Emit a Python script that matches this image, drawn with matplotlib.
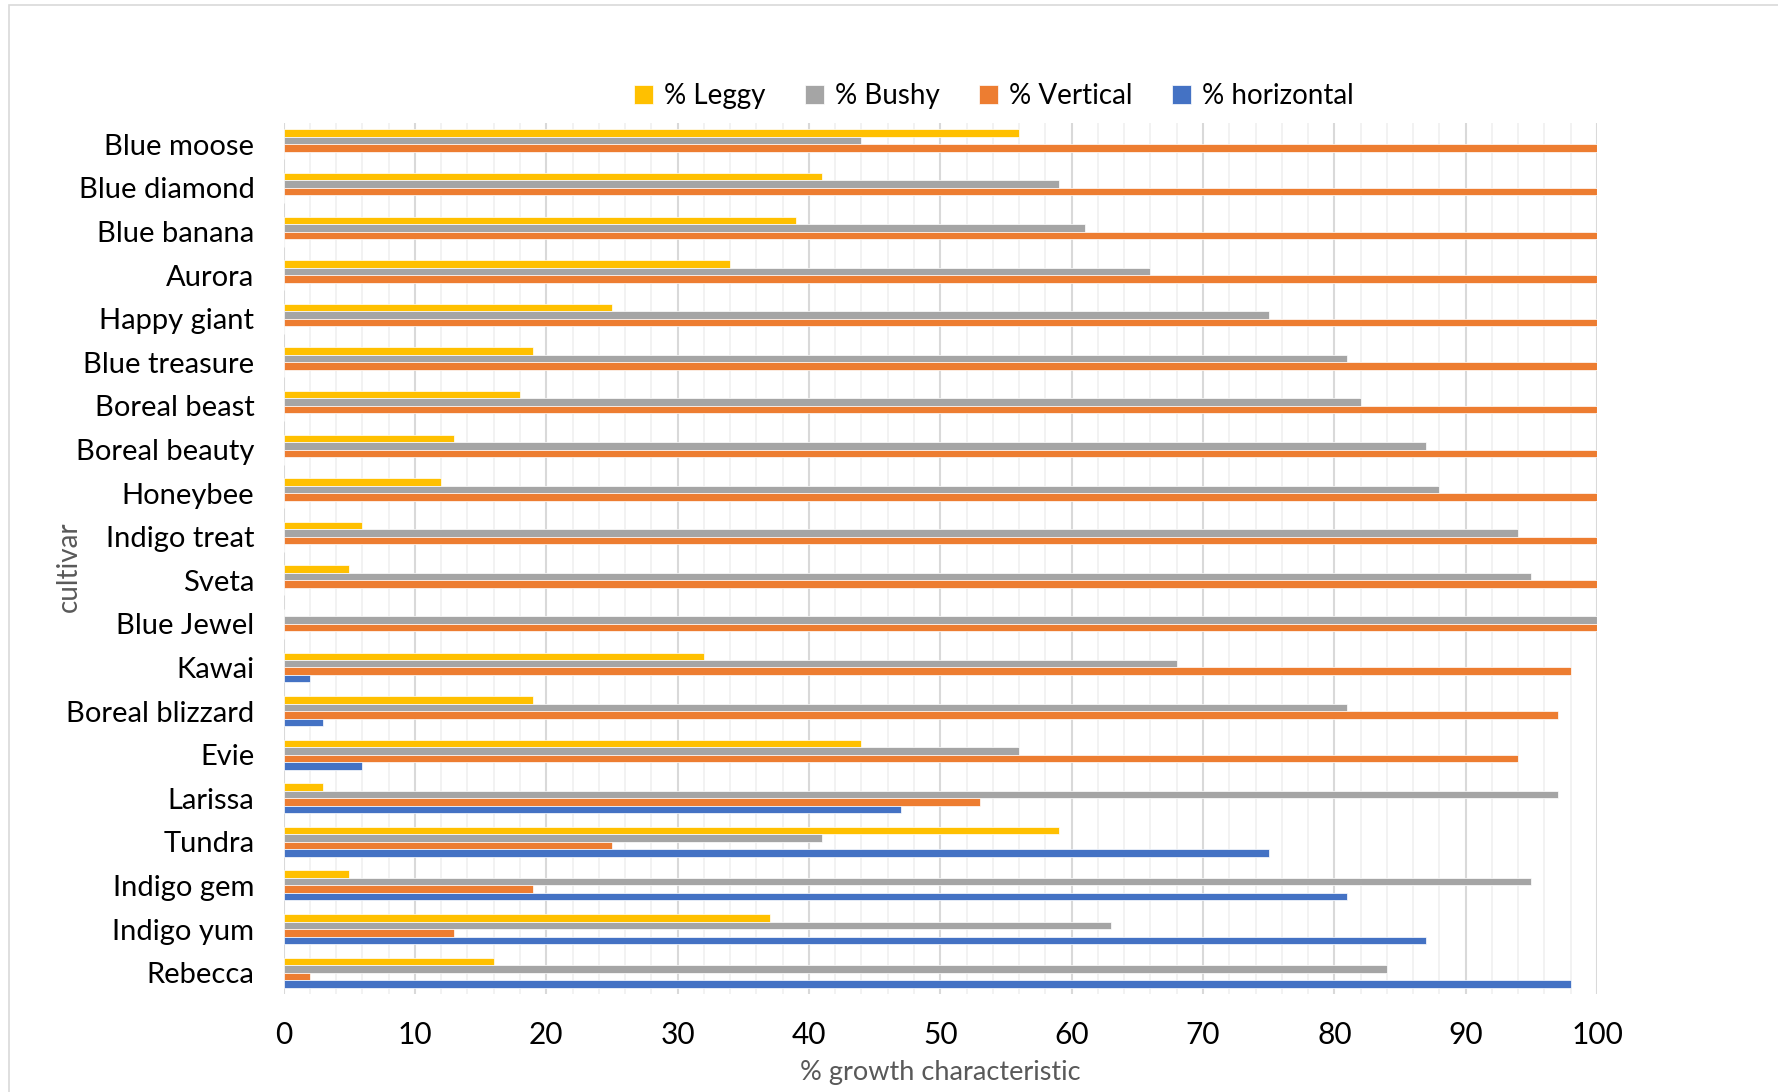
import numpy as np
import matplotlib
matplotlib.use('Agg')
import matplotlib.pyplot as plt
from matplotlib.patches import Rectangle

plt.rcParams['font.family'] = ['Lato', 'DejaVu Sans']

# Growth habit of each cultivar (percent of plants)
cultivars = ['Blue moose', 'Blue diamond', 'Blue banana', 'Aurora', 'Happy giant',
             'Blue treasure', 'Boreal beast', 'Boreal beauty', 'Honeybee', 'Indigo treat',
             'Sveta', 'Blue Jewel', 'Kawai', 'Boreal blizzard', 'Evie', 'Larissa',
             'Tundra', 'Indigo gem', 'Indigo yum', 'Rebecca']
leggy = [56, 41, 39, 34, 25, 19, 18, 13, 12, 6, 5, 0, 32, 19, 44, 3, 59, 5, 37, 16]
bushy = [44, 59, 61, 66, 75, 81, 82, 87, 88, 94, 95, 100, 68, 81, 56, 97, 41, 95, 63, 84]
vertical = [100, 100, 100, 100, 100, 100, 100, 100, 100, 100, 100, 100, 98, 97, 94, 53, 25, 19, 13, 2]
horizontal = [0, 0, 0, 0, 0, 0, 0, 0, 0, 0, 0, 0, 2, 3, 6, 47, 75, 81, 87, 98]

series = [('% Leggy', leggy, '#FFC000'),
          ('% Bushy', bushy, '#A5A5A5'),
          ('% Vertical', vertical, '#ED7D31'),
          ('% horizontal', horizontal, '#4472C4')]

fig = plt.figure(figsize=(17.78, 10.92), dpi=100)
ax = fig.add_axes([0.1595, 0.0893, 0.7387, 0.7985])

y = np.arange(len(cultivars))
h = 0.172
for i, (name, vals, color) in enumerate(series):
    ax.barh(y + (i - 1.5) * h, vals, height=h, color=color, label=name,
            edgecolor='white', linewidth=0.5, zorder=3)

ax.set_ylim(len(cultivars) - 0.5, -0.5)
ax.set_xlim(0, 100)
ax.set_yticks(y)
ax.set_yticklabels(cultivars)
ax.set_xticks(np.arange(0, 101, 10))
ax.set_xticks(np.arange(0, 101, 2), minor=True)
ax.grid(axis='x', which='major', color='#D9D9D9', linewidth=1.5, zorder=0)
ax.grid(axis='x', which='minor', color='#F0F0F0', linewidth=1.2, zorder=0)
ax.tick_params(axis='both', which='both', length=0)
ax.tick_params(axis='y', labelsize=21, pad=21, labelcolor='black')
ax.tick_params(axis='x', labelsize=21.5, pad=19, labelcolor='black')
for s in ax.spines.values():
    s.set_visible(False)

fig.text(0.529, 0.018, '% growth characteristic', ha='center', va='center',
         fontsize=19.5, color='#595959')
fig.text(0.039, 0.481, 'cultivar', ha='center', va='center', rotation=90,
         fontsize=20, color='#595959')

ax.legend(loc='center', bbox_to_anchor=(0.559, 0.912), bbox_transform=fig.transFigure,
          ncol=4, frameon=False, fontsize=20, handlelength=0.7, handleheight=0.7,
          handletextpad=0.4, columnspacing=1.4)

# light frame around the chart area
fig.patches.append(Rectangle((0.005, -0.05), 1.2, 1.045, transform=fig.transFigure,
                             fill=False, edgecolor='#D9D9D9', linewidth=1.2))

fig.savefig('out.png', dpi=100)
